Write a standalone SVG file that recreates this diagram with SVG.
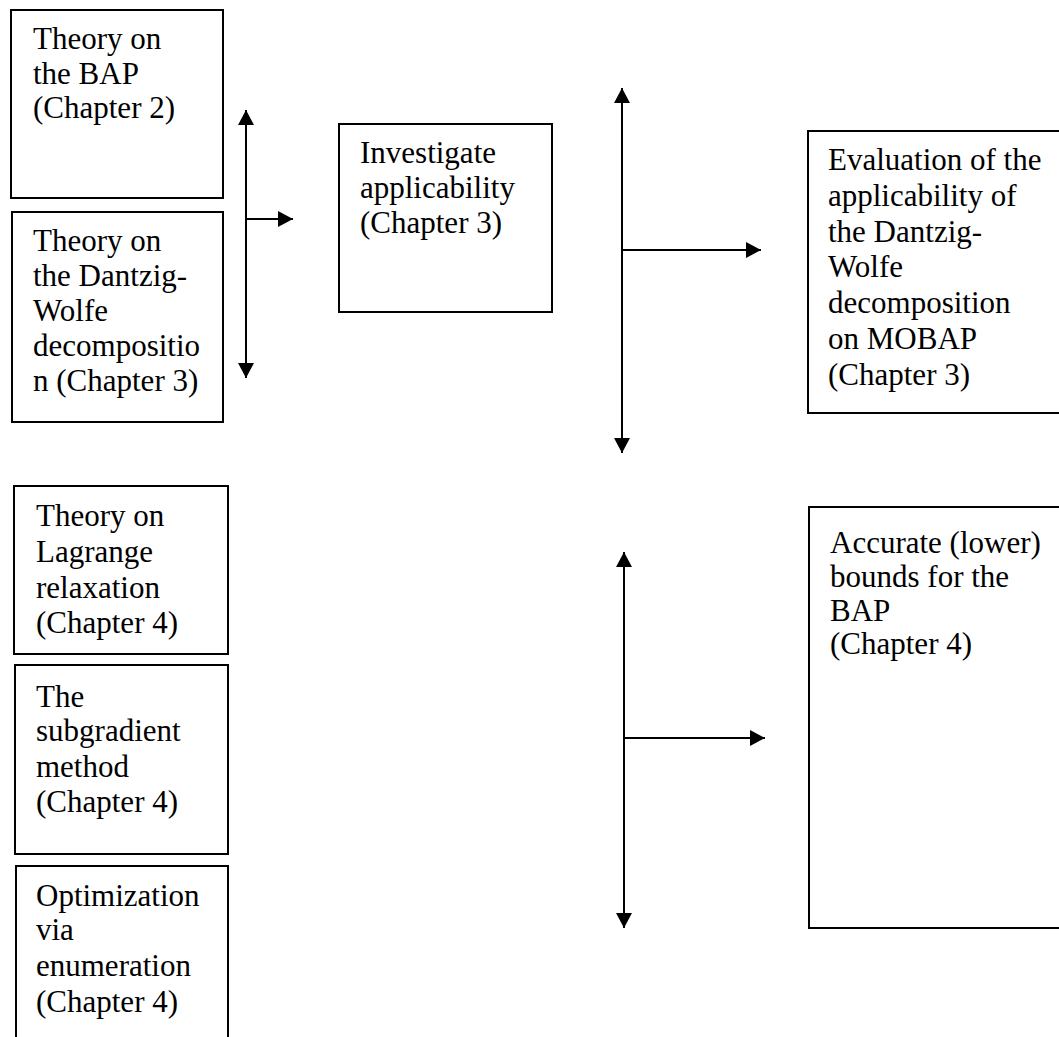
<svg xmlns="http://www.w3.org/2000/svg" width="1059" height="1037" viewBox="0 0 1059 1037">
<style>
.box{fill:#fff;stroke:#000;stroke-width:2}
.t{font-family:"Liberation Serif","Times New Roman",serif;font-size:31px;fill:#000}
.c{stroke:#000;stroke-width:2;fill:none}
</style>
<defs>
<marker id="ah" markerUnits="userSpaceOnUse" markerWidth="16" markerHeight="16" refX="15" refY="8" orient="auto-start-reverse" viewBox="0 0 16 16">
<path d="M0,0 L15,8 L0,16 z" fill="#000"/>
</marker>
</defs>
<rect width="1059" height="1037" fill="#fff"/>
<g id="n-bap">
<rect class="box" x="11" y="10" width="212" height="188"/>
<text class="t"><tspan x="33" y="49">Theory on</tspan><tspan x="33" y="84">the BAP</tspan><tspan x="33" y="118">(Chapter 2)</tspan></text>
</g>
<g id="n-dw">
<rect class="box" x="12" y="212" width="211" height="210"/>
<text class="t"><tspan x="33" y="251">Theory on</tspan><tspan x="33" y="286">the Dantzig-</tspan><tspan x="33" y="321">Wolfe</tspan><tspan x="33" y="356">decompositio</tspan><tspan x="33" y="391">n (Chapter 3)</tspan></text>
</g>
<g id="n-inv">
<rect class="box" x="339" y="124" width="213" height="188"/>
<text class="t"><tspan x="360" y="163">Investigate</tspan><tspan x="360" y="198">applicability</tspan><tspan x="360" y="233">(Chapter 3)</tspan></text>
</g>
<g id="n-eval">
<rect class="box" x="808" y="131" width="262" height="282"/>
<text class="t"><tspan x="828" y="170">Evaluation of the</tspan><tspan x="828" y="206">applicability of</tspan><tspan x="828" y="242">the Dantzig-</tspan><tspan x="828" y="277">Wolfe</tspan><tspan x="828" y="313">decomposition</tspan><tspan x="828" y="349">on MOBAP</tspan><tspan x="828" y="385">(Chapter 3)</tspan></text>
</g>
<g id="n-lag">
<rect class="box" x="14" y="486" width="214" height="168"/>
<text class="t"><tspan x="36" y="526">Theory on</tspan><tspan x="36" y="562">Lagrange</tspan><tspan x="36" y="598">relaxation</tspan><tspan x="36" y="633">(Chapter 4)</tspan></text>
</g>
<g id="n-sub">
<rect class="box" x="15" y="665" width="213" height="189"/>
<text class="t"><tspan x="36" y="707">The</tspan><tspan x="36" y="741">subgradient</tspan><tspan x="36" y="777">method</tspan><tspan x="36" y="812">(Chapter 4)</tspan></text>
</g>
<g id="n-opt">
<rect class="box" x="16" y="866" width="212" height="185"/>
<text class="t"><tspan x="36" y="906">Optimization</tspan><tspan x="36" y="940">via</tspan><tspan x="36" y="976">enumeration</tspan><tspan x="36" y="1012">(Chapter 4)</tspan></text>
</g>
<g id="n-acc">
<rect class="box" x="809" y="507" width="262" height="421"/>
<text class="t"><tspan x="830" y="553">Accurate (lower)</tspan><tspan x="830" y="587">bounds for the</tspan><tspan x="830" y="621">BAP</tspan><tspan x="830" y="654">(Chapter 4)</tspan></text>
</g>
<g id="connectors">
<line class="c" x1="246" y1="110" x2="246" y2="378" marker-start="url(#ah)" marker-end="url(#ah)"/>
<line class="c" x1="246" y1="219" x2="293" y2="219" marker-end="url(#ah)"/>
<line class="c" x1="622" y1="88" x2="622" y2="453" marker-start="url(#ah)" marker-end="url(#ah)"/>
<line class="c" x1="622" y1="250" x2="761" y2="250" marker-end="url(#ah)"/>
<line class="c" x1="624" y1="552" x2="624" y2="928" marker-start="url(#ah)" marker-end="url(#ah)"/>
<line class="c" x1="624" y1="738" x2="765" y2="738" marker-end="url(#ah)"/>
</g>
</svg>
